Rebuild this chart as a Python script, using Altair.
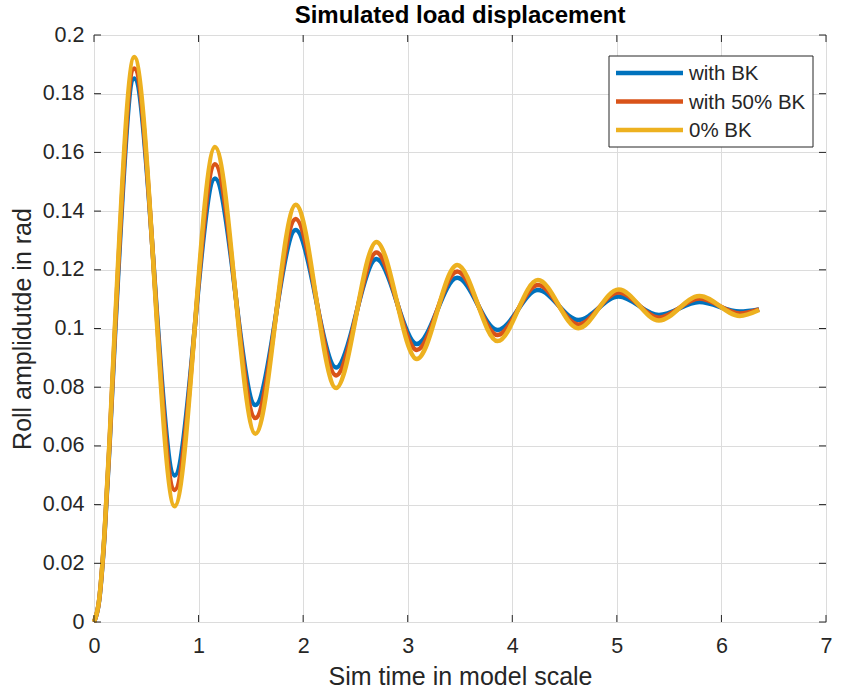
import altair as alt
import pandas as pd

# Time of each sample of the roll response: the early rise, then alternating peaks/troughs, end
time_s = [0.0, 0.05, 0.1, 0.15, 0.2, 0.385, 0.771, 1.157, 1.543, 1.929, 2.315, 2.701, 3.087,
          3.473, 3.859, 4.245, 4.631, 5.017, 5.403, 5.789, 6.175, 6.36]

roll_with_bk = [0.0, 0.0075, 0.029, 0.061, 0.097,
                0.1852, 0.0499, 0.1511, 0.0739, 0.1336, 0.0867, 0.1237, 0.0947,
                0.1173, 0.0995, 0.1131, 0.1029, 0.1109, 0.1046, 0.1090, 0.1058, 0.1065]
roll_50_bk = [0.0, 0.0077, 0.0296, 0.062, 0.099,
              0.1886, 0.0450, 0.1560, 0.0695, 0.1373, 0.0840, 0.1259, 0.0927,
              0.1194, 0.0978, 0.1148, 0.1014, 0.1123, 0.1037, 0.1102, 0.1051, 0.1065]
roll_0_bk = [0.0, 0.0078, 0.030, 0.063, 0.101,
             0.1925, 0.0394, 0.1618, 0.0641, 0.1422, 0.0797, 0.1295, 0.0896,
             0.1216, 0.0957, 0.1165, 0.1001, 0.1133, 0.1027, 0.1111, 0.1043, 0.1063]

series_names = ["with BK", "with 50% BK", "0% BK"]
series_colors = ["#0072BD", "#D95319", "#EDB120"]

x_ticks = [0, 1, 2, 3, 4, 5, 6, 7]
y_ticks = [0, 0.02, 0.04, 0.06, 0.08, 0.1, 0.12, 0.14, 0.16, 0.18, 0.2]

W, H = 732, 587
FONT = "Liberation Sans"
AX = "#262626"

rows = []
for name, vals in zip(series_names, [roll_with_bk, roll_50_bk, roll_0_bk]):
    for t, v in zip(time_s, vals):
        rows.append({"t": t, "roll": v, "case": name})
df = pd.DataFrame(rows)

x_scale = alt.Scale(domain=[0, 7], nice=False, zero=False)
y_scale = alt.Scale(domain=[0, 0.2], nice=False, zero=False)


def axis(title, ticks, label_pad, title_pad):
    return alt.Axis(values=ticks, title=title, ticks=False, domain=False, grid=True,
                    gridColor="#dcdcdc", labelPadding=label_pad, titlePadding=title_pad,
                    labelFontSize=21.5, titleFontSize=25, labelFont=FONT, titleFont=FONT,
                    labelColor=AX, titleColor=AX, titleFontWeight="normal",
                    labelFlush=False, format="~g")


x_axis = axis("Sim time in model scale", x_ticks, 13, 8)
y_axis = axis("Roll amplidutde in rad", y_ticks, 10, 7)

lines = alt.Chart(df).mark_line(strokeWidth=4.5, interpolate="monotone").encode(
    x=alt.X("t:Q", scale=x_scale, axis=x_axis),
    y=alt.Y("roll:Q", scale=y_scale, axis=y_axis),
    color=alt.Color("case:N", scale=alt.Scale(domain=series_names, range=series_colors),
                    legend=None),
    detail="case:N",
)

# Inward tick marks on all four sides of the box
xt = pd.DataFrame({"v": x_ticks})
yt = pd.DataFrame({"v": y_ticks})
tick_len = 7
xb = alt.Chart(xt).mark_rule(color=AX, strokeWidth=1).encode(
    x=alt.X("v:Q", scale=x_scale), y=alt.value(H), y2=alt.value(H - tick_len))
xtop = alt.Chart(xt).mark_rule(color=AX, strokeWidth=1).encode(
    x=alt.X("v:Q", scale=x_scale), y=alt.value(0), y2=alt.value(tick_len))
yl = alt.Chart(yt).mark_rule(color=AX, strokeWidth=1).encode(
    y=alt.Y("v:Q", scale=y_scale), x=alt.value(0), x2=alt.value(tick_len))
yr = alt.Chart(yt).mark_rule(color=AX, strokeWidth=1).encode(
    y=alt.Y("v:Q", scale=y_scale), x=alt.value(W), x2=alt.value(W - tick_len))

# Legend box in the upper right
one = alt.Data(values=[{"k": 1}])
leg_box = alt.Chart(one).mark_rect(fill="white", stroke=AX, strokeWidth=1).encode(
    x=alt.value(515), x2=alt.value(719), y=alt.value(21), y2=alt.value(112))
leg_layers = [leg_box]
for i, (name, col) in enumerate(zip(series_names, series_colors)):
    yy = 38 + 28.5 * i
    leg_layers.append(alt.Chart(one).mark_rule(color=col, strokeWidth=4.5).encode(
        x=alt.value(522), x2=alt.value(589), y=alt.value(yy)))
    leg_layers.append(alt.Chart(one).mark_text(
        text=name, align="left", baseline="middle", font=FONT, fontSize=20.5, color=AX).encode(
        x=alt.value(595), y=alt.value(yy + 1)))

chart = alt.layer(lines, xb, xtop, yl, yr, *leg_layers).properties(
    width=W, height=H,
    title=alt.TitleParams("Simulated load displacement", font=FONT, fontSize=24,
                          fontWeight="bold", color="black", anchor="middle", offset=0, dy=4),
    autosize=alt.AutoSizeParams(type="none"),
    padding={"left": 94, "top": 35, "right": 16, "bottom": 68},
).configure_view(stroke=AX, strokeWidth=1).configure(background="white")

chart.save("out.html", embed_options={"renderer": "svg", "actions": False})
